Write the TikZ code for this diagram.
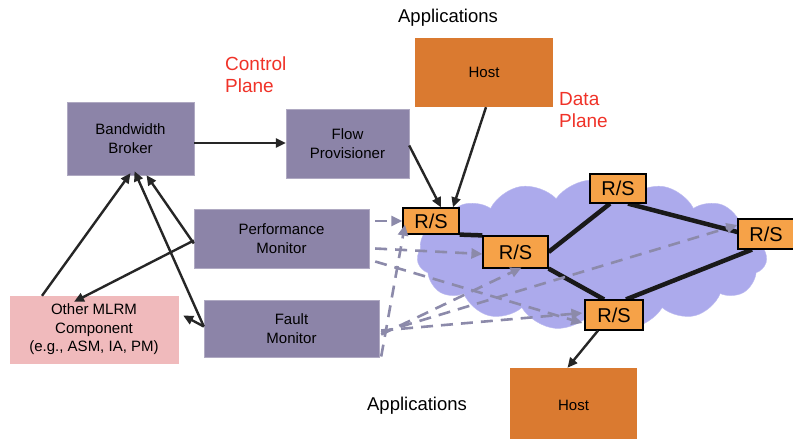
\documentclass[tikz,border=0pt]{standalone}
\usepackage{fontspec}
\setmainfont{Liberation Sans}
\usetikzlibrary{arrows.meta,shapes.symbols}
\definecolor{boxcol}{RGB}{140,132,168}
\definecolor{pinkcol}{RGB}{240,186,188}
\definecolor{hostcol}{RGB}{218,122,48}
\definecolor{rscol}{RGB}{246,162,72}
\definecolor{cloudcol}{RGB}{172,170,236}
\definecolor{dashcol}{RGB}{140,138,170}
\definecolor{redtxt}{RGB}{240,50,40}
\pgfdeclarelayer{bg}
\pgfdeclarelayer{links}
\pgfsetlayers{bg,links,main}
\tikzset{
  ctrlbox/.style={draw=boxcol!70!white, fill=boxcol, inner sep=0, align=center, font=\fontsize{15}{18.5}\selectfont},
  hostbox/.style={fill=hostcol, inner sep=0, align=center, font=\fontsize{15}{18}\selectfont},
  rsbox/.style={draw=black, line width=1.2pt, fill=rscol, inner sep=0, font=\fontsize{20}{22}\selectfont},
  blk/.style={-{Triangle[length=10pt,width=9pt]}, line width=2.4pt, black!85},
  link/.style={line width=4.5pt, black!90},
  dsh/.style={-{Triangle[length=11pt,width=10pt]}, line width=2.6pt, dashcol, dash pattern=on 12pt off 8pt},
  redlbl/.style={text=redtxt, align=left, font=\fontsize{19}{22}\selectfont, inner sep=0},
  applbl/.style={font=\fontsize{18.5}{20}\selectfont, inner sep=0}
}
\begin{document}
\begin{tikzpicture}[x=1pt,y=-1pt]
\useasboundingbox (0,0) rectangle (793,439);
\begin{pgfonlayer}{bg}
\fill[white] (0,0) rectangle (793,439);
\node[cloud, cloud puffs=15, cloud puff arc=110, aspect=2.3, fill=cloudcol, draw=cloudcol!80!white, minimum width=350pt, minimum height=150pt, inner sep=0] (cloud) at (592,255) {};
\end{pgfonlayer}
% boxes
\node[ctrlbox, minimum width=127pt, minimum height=73pt] (bb) at (130.5,138.5) {Bandwidth\\Broker};
\node[ctrlbox, minimum width=123pt, minimum height=69pt] (fp) at (347.5,143.5) {Flow\\Provisioner};
\node[ctrlbox, minimum width=175pt, minimum height=59pt] (pm) at (281.5,238.5) {Performance\\Monitor};
\node[ctrlbox, minimum width=175pt, minimum height=57pt] (fm) at (291.5,328.5) {Fault\\Monitor};
\node[ctrlbox, fill=pinkcol, draw=pinkcol, minimum width=168pt, minimum height=67pt] (other) at (94,329.5) {Other MLRM\\Component\\(e.g., ASM, IA, PM)};
\node[hostbox, minimum width=138pt, minimum height=69pt] (host1) at (484,72.5) {Host};
\node[hostbox, minimum width=127pt, minimum height=75pt] (host2) at (573.5,405.5) {Host};
% labels
\node[applbl] (app1) at (448,18) {Applications};
\node[applbl] (app2) at (417,406) {Applications};
\node[redlbl, anchor=north west] (cp) at (225,57) {Control\\Plane};
\node[redlbl, anchor=north west] (dp) at (559,92) {Data\\Plane};
% routers
\node[rsbox, minimum width=56pt, minimum height=26pt] (rs1) at (431,221) {R/S};
\node[rsbox, minimum width=65pt, minimum height=32pt] (rs2) at (515.5,252) {R/S};
\node[rsbox, minimum width=56pt, minimum height=29pt] (rs3) at (618,188.5) {R/S};
\node[rsbox, minimum width=58pt, minimum height=30pt] (rs4) at (614,315) {R/S};
\node[rsbox, minimum width=56pt, minimum height=30pt] (rs5) at (766,234) {R/S};
% links
\begin{pgfonlayer}{links}
\draw[link] (rs1.south east) -- (rs2.north west);
\draw[link] ([xshift=-8pt]rs3.south) -- (rs2.east);
\draw[link] (rs2.south east) -- ([xshift=-10pt]rs4.north);
\draw[link] ([xshift=10pt]rs3.south) -- ([yshift=2pt]rs5.west);
\draw[link] ([xshift=12pt]rs4.north) -- ([xshift=-14pt]rs5.south);
\end{pgfonlayer}
% black arrows
\draw[blk] (bb.east |- 0,143) -- (fp.west |- 0,143);
\draw[blk] ([yshift=-2pt]fp.east) -- ([xshift=10pt]rs1.north);
\draw[blk] ([xshift=2pt]host1.south) -- ([xshift=22pt]rs1.north);
\draw[blk] ([yshift=-5pt]pm.west) -- ([xshift=16pt]bb.south);
\draw[blk] ([yshift=-2pt]pm.west) -- ([xshift=-20pt,yshift=-6pt]other.north);
\coordinate (fmp) at ([yshift=2pt]fm.west);
\draw[blk] (fmp) -- ([xshift=4pt,yshift=4pt]bb.south);
\draw[blk] (fmp) -- ([xshift=5pt,yshift=14pt]other.east);
\draw[blk] ([xshift=-52pt]other.north) -- ([yshift=2pt]bb.south);
\draw[blk] ([xshift=-16pt]rs4.south) -- ([xshift=-6pt]host2.north);
% dashed arrows
\draw[dsh] ([xshift=6pt]pm.east |- rs1.west) -- (rs1.west);
\draw[dsh] ([xshift=6pt,yshift=-10pt]pm.east) -- ([yshift=-2pt]rs2.west);
\draw[dsh] ([xshift=6pt,yshift=-23pt]pm.east) -- ([xshift=-2pt,yshift=-8pt]rs4.west);
\coordinate (fmq) at ([xshift=2pt,yshift=-28pt]fm.east);
\draw[dsh] (fmq) -- ([xshift=-26pt,yshift=10pt]rs1.south);
\draw[dsh] ([xshift=2pt,yshift=-6pt]fm.east) -- ([xshift=6pt,yshift=1pt]rs2.south);
\draw[dsh] ([xshift=2pt,yshift=-4pt]fm.east) -- ([yshift=9pt]rs5.west);
\draw[dsh] ([xshift=2pt,yshift=-2pt]fm.east) -- ([xshift=-2pt,yshift=2pt]rs4.west);
\end{tikzpicture}
\end{document}
